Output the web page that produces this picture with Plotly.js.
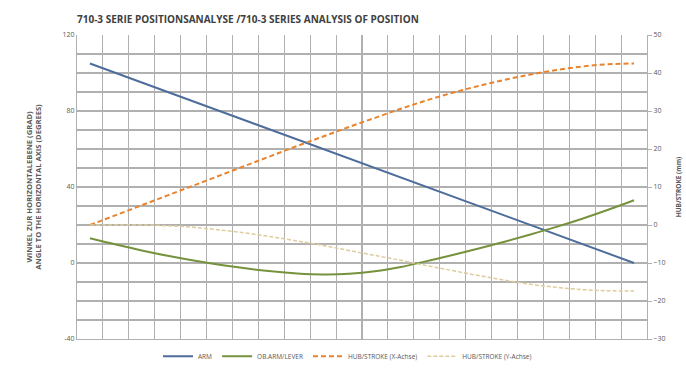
<!DOCTYPE html>
<html>
<head>
<meta charset="utf-8">
<script src="https://cdn.plot.ly/plotly-3.0.1.min.js"></script>
<style>html,body{margin:0;padding:0;background:#fff;}#chart{width:686px;height:383px;}</style>
</head>
<body>
<div id="chart"></div>
<script>
// Positions along the stroke (no labels shown in the original)
const positions = [1,2,3,4,5,6,7,8,9,10,11,12,13,14,15,16,17,18,19,20,21,22];

// Angle to horizontal (degrees) - left axis
const armAngle   = [105,100,95,90,85,80,75,70,65,60,55,50,45,40,35,30,25,20,15,10,5,0];
const leverAngle = [13.0,9.7,6.6,3.8,1.3,-0.9,-2.8,-4.4,-5.5,-6.0,-5.7,-4.4,-2.1,1.0,4.2,7.6,11.2,15.0,19.0,23.3,28.0,33.0];

// Stroke (mm) - right axis
const strokeX = [0,2.6,5.2,7.8,10.4,13.0,15.6,18.2,20.8,23.3,25.8,28.2,30.6,32.8,34.8,36.6,38.2,39.6,40.8,41.7,42.3,42.5];
const strokeY = [0,0,0,-0.2,-0.6,-1.3,-2.1,-3.1,-4.2,-5.4,-6.7,-8.0,-9.3,-10.7,-12.0,-13.3,-14.5,-15.6,-16.4,-17.0,-17.3,-17.4];

const seriesNames = ["ARM", "OB.ARM/LEVER", "HUB/STROKE (X-Achse)", "HUB/STROKE (Y-Achse)"];

// Left axis ticks: labels every 40, gridlines every 10
const leftTickVals = [-40,-30,-20,-10,0,10,20,30,40,50,60,70,80,90,100,110,120];
const leftTickText = ["-40","","","","0","","","","40","","","","80","","","","120"];
// Right axis ticks
const rightTickVals = [-30,-20,-10,0,10,20,30,40,50];

const titleText = "710-3 SERIE POSITIONSANALYSE /710-3 SERIES ANALYSIS OF POSITION";
const leftTitle = "WINKEL ZUR HORIZONTALEBENE (GRAD)<br>ANGLE TO THE HORIZONTAL AXIS (DEGREES)";
const rightTitle = "HUB/STROKE (mm)";

const grid = "#b0b0b0";
const txt = "#595959";
const fontFam = "'Open Sans', 'Liberation Sans', sans-serif";

// vertical gridlines at category boundaries
const xGridVals = positions.map(p => p - 0.5).concat([positions[positions.length - 1] + 0.5]);

const traces = [
  {x: positions, y: armAngle, name: seriesNames[0], type: "scatter", mode: "lines",
   line: {color: "#4e6d9c", width: 2}, yaxis: "y"},
  {x: positions, y: leverAngle, name: seriesNames[1], type: "scatter", mode: "lines",
   line: {color: "#76923c", width: 2, shape: "spline"}, yaxis: "y"},
  {x: positions, y: strokeX, name: seriesNames[2], type: "scatter", mode: "lines",
   line: {color: "#e9832e", width: 2, dash: "5px,3px", shape: "spline"}, yaxis: "y2"},
  {x: positions, y: strokeY, name: seriesNames[3], type: "scatter", mode: "lines",
   line: {color: "#ddcc9c", width: 1.5, dash: "4px,2px", shape: "spline"}, yaxis: "y2"}
];

const layout = {
  width: 686, height: 383,
  margin: {l: 77, r: 39, t: 35, b: 30},
  paper_bgcolor: "#ffffff", plot_bgcolor: "#ffffff",
  font: {family: fontFam, color: txt, size: 7},
  showlegend: true,
  title: {text: titleText, x: 0, xanchor: "left", xref: "paper", y: 1 - 19/383, yanchor: "middle",
          font: {family: fontFam, size: 10, color: "#404040", weight: "bold"}},
  xaxis: {range: [0.5, 22.5], tickmode: "array", tickvals: xGridVals, showgrid: true, gridcolor: grid, gridwidth: 1.1,
          showticklabels: false, ticks: "", zeroline: false, showline: true, linecolor: grid},
  yaxis: {range: [-40, 120], tickmode: "array", tickvals: leftTickVals, ticktext: leftTickText,
          showgrid: true, gridcolor: grid, gridwidth: 1.1, zeroline: false,
          showline: true, linecolor: grid, ticks: "",
          tickfont: {size: 7, color: txt},
          title: {text: leftTitle, standoff: 19, font: {size: 7.6, color: txt, weight: "bold"}}},
  yaxis2: {range: [-30, 50], tickmode: "array", tickvals: rightTickVals, overlaying: "y", side: "right",
           showgrid: false, zeroline: false,
           showline: true, linecolor: grid, ticks: "outside", ticklen: 4, tickcolor: grid,
           tickfont: {size: 7, color: txt},
           title: {text: rightTitle, standoff: 12, font: {size: 6.5, color: txt, weight: "bold"}}},
  legend: {orientation: "h", x: (158-77)/570, xanchor: "left", y: (353-371)/318, yanchor: "middle",
           font: {size: 6.5, color: txt}, bgcolor: "rgba(0,0,0,0)", itemwidth: 30, traceorder: "normal"}
};

Plotly.newPlot("chart", traces, layout, {staticPlot: true, displayModeBar: false});
</script>
</body>
</html>
